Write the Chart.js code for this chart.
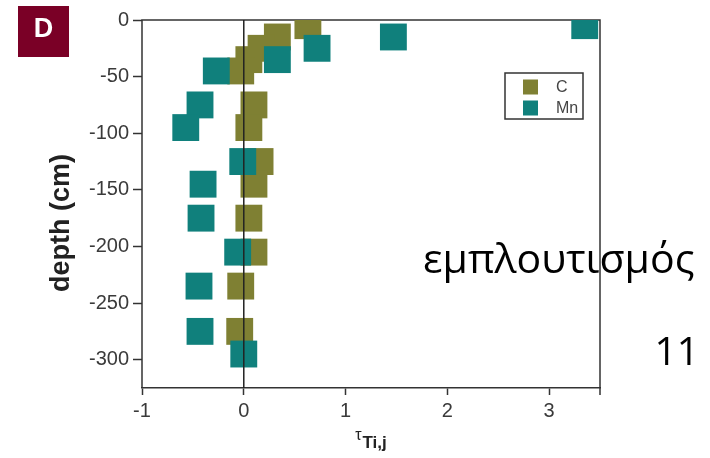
<!DOCTYPE html>
<html><head><meta charset="utf-8">
<script src="https://cdn.jsdelivr.net/npm/chart.js@4.4.0/dist/chart.umd.min.js"></script>
<style>html,body{margin:0;padding:0;background:#fff;}#wrap{width:710px;height:458px;position:relative;}</style>
</head><body><div id="wrap"><canvas id="c" width="710" height="458"></canvas></div>
<script>
// ---- data ----
const depthC  = [-5, -15, -25, -35, -45, -75, -95, -125, -145, -175, -205, -235, -275];
const tauC    = [0.63, 0.33, 0.17, 0.05, -0.03, 0.10, 0.05, 0.16, 0.10, 0.05, 0.10, -0.03, -0.04];
const depthMn = [-5, -15, -25, -35, -45, -75, -95, -125, -145, -175, -205, -235, -275, -295];
const tauMn   = [3.35, 1.47, 0.72, 0.33, -0.27, -0.43, -0.57, -0.01, -0.40, -0.42, -0.06, -0.44, -0.43, 0.00];
const xTicks = [-1, 0, 1, 2, 3];
const yTicks = [0, -50, -100, -150, -200, -250, -300];
const seriesLabels = ['C', 'Mn'];
const panelLabel = 'D';
const yTitle = 'depth (cm)';
const xTitleMain = 'τ';
const xTitleSub = 'Ti,j';
const noteText = 'εμπλουτισμός';
const pageNum = '11';

const colC = '#7f8033';
const colMn = '#10807c';
const AX = '#333333';
const SANS = "'Liberation Sans', Arial, sans-serif";

const toPts = (xs, ys) => xs.map((v, i) => ({x: v, y: ys[i]}));

function plotBox(chart) {
  const xs = chart.scales.x, ys = chart.scales.y;
  return {
    left: xs.getPixelForValue(xs.min), right: xs.getPixelForValue(xs.max),
    top: ys.getPixelForValue(ys.max), bottom: ys.getPixelForValue(ys.min)
  };
}

const deco = {
  id: 'deco',
  beforeDraw(chart) {
    const ctx = chart.ctx;
    ctx.save();
    ctx.fillStyle = '#000';
    ctx.font = "41px 'Open Sans', sans-serif";
    ctx.textBaseline = 'alphabetic';
    ctx.textAlign = 'left';
    ctx.fillText(noteText, 423, 273);
    ctx.font = "39px 'Open Sans', sans-serif";
    ctx.textAlign = 'right';
    ctx.fillText(pageNum, 699, 365);
    ctx.fillStyle = '#7a0026';
    ctx.fillRect(18, 6, 51, 51);
    ctx.fillStyle = '#fff';
    ctx.font = "bold 27px " + SANS;
    ctx.textAlign = 'center';
    ctx.textBaseline = 'middle';
    ctx.fillText(panelLabel, 43.5, 30);
    ctx.restore();
  },
  beforeDatasetsDraw(chart) {
    const ctx = chart.ctx;
    const b = plotBox(chart);
    ctx.save();
    ctx.strokeStyle = AX;
    ctx.lineWidth = 1.5;
    ctx.beginPath();
    ctx.moveTo(b.left, b.bottom);
    ctx.lineTo(b.left, b.top);
    ctx.lineTo(b.right, b.top);
    ctx.lineTo(b.right, b.bottom + 7);
    ctx.stroke();
    ctx.restore();
    ctx.save();
    ctx.beginPath();
    ctx.rect(b.left, b.top, b.right - b.left, b.bottom - b.top);
    ctx.clip();
  },
  afterDatasetsDraw(chart) {
    const ctx = chart.ctx;
    ctx.restore();
    const b = plotBox(chart);
    const x0 = chart.scales.x.getPixelForValue(0);
    ctx.save();
    ctx.strokeStyle = '#222';
    ctx.lineWidth = 1.5;
    ctx.beginPath();
    ctx.moveTo(x0, b.top);
    ctx.lineTo(x0, b.bottom);
    ctx.stroke();
    ctx.restore();
  },
  afterDraw(chart) {
    const ctx = chart.ctx;
    const b = plotBox(chart);
    ctx.save();
    ctx.fillStyle = '#222';
    ctx.font = "bold 27px " + SANS;
    ctx.textAlign = 'center';
    ctx.textBaseline = 'middle';
    ctx.translate(62, 223);
    ctx.rotate(-Math.PI / 2);
    ctx.fillText(yTitle, 0, 0);
    ctx.restore();
    ctx.save();
    ctx.fillStyle = '#222';
    ctx.textBaseline = 'alphabetic';
    ctx.textAlign = 'left';
    ctx.font = "16px " + SANS;
    const w1 = ctx.measureText(xTitleMain).width;
    ctx.font = "bold 17px " + SANS;
    const w2 = ctx.measureText(xTitleSub).width;
    const cx = (b.left + b.right) / 2;
    const xs = cx - (w1 + w2 + 1) / 2;
    ctx.font = "16px " + SANS;
    ctx.fillText(xTitleMain, xs, 440);
    ctx.font = "bold 17px " + SANS;
    ctx.fillText(xTitleSub, xs + w1 + 1, 448);
    // legend
    ctx.strokeStyle = AX;
    ctx.lineWidth = 1.5;
    ctx.strokeRect(505, 73, 78, 46);
    ctx.font = "16px " + SANS;
    ctx.textBaseline = 'middle';
    chart.data.datasets.slice().reverse().forEach((ds, i) => {
      const cy = 87 + i * 21;
      ctx.fillStyle = ds.backgroundColor;
      ctx.fillRect(523, cy - 7.5, 15, 15);
      ctx.fillStyle = '#444';
      ctx.fillText(ds.label, 556, cy + 1);
    });
    ctx.restore();
  }
};

new Chart(document.getElementById('c'), {
  type: 'scatter',
  data: {
    datasets: [
      {label: seriesLabels[1], data: toPts(tauMn, depthMn), backgroundColor: colMn, borderWidth: 0,
       pointStyle: 'rect', pointRadius: 19, pointHoverRadius: 19, clip: false},
      {label: seriesLabels[0], data: toPts(tauC, depthC), backgroundColor: colC, borderWidth: 0,
       pointStyle: 'rect', pointRadius: 19, pointHoverRadius: 19, clip: false}
    ]
  },
  options: {
    responsive: false,
    animation: false,
    devicePixelRatio: 1,
    layout: {padding: {left: 0, right: 110, top: 20, bottom: 0}},
    plugins: {legend: {display: false}, tooltip: {enabled: false}},
    scales: {
      x: {
        type: 'linear', min: -1, max: 3.5,
        afterBuildTicks: s => { s.ticks = xTicks.map(v => ({value: v})); },
        afterFit: s => { s.height = 70; },
        grid: {drawOnChartArea: false, drawTicks: true, tickLength: 7, tickColor: AX, tickWidth: 1.5},
        border: {display: true, color: AX, width: 1.5},
        ticks: {color: '#3a3a3a', font: {family: SANS, size: 20}, padding: 4, maxRotation: 0}
      },
      y: {
        type: 'linear', min: -325, max: 0,
        afterBuildTicks: s => { s.ticks = yTicks.map(v => ({value: v})); },
        afterFit: s => { s.width = 142; },
        grid: {drawOnChartArea: false, drawTicks: true, tickLength: 9, tickColor: AX, tickWidth: 1.5},
        border: {display: false},
        ticks: {color: '#3a3a3a', font: {family: SANS, size: 20}, padding: 4}
      }
    }
  },
  plugins: [deco]
});
</script>
</body></html>
